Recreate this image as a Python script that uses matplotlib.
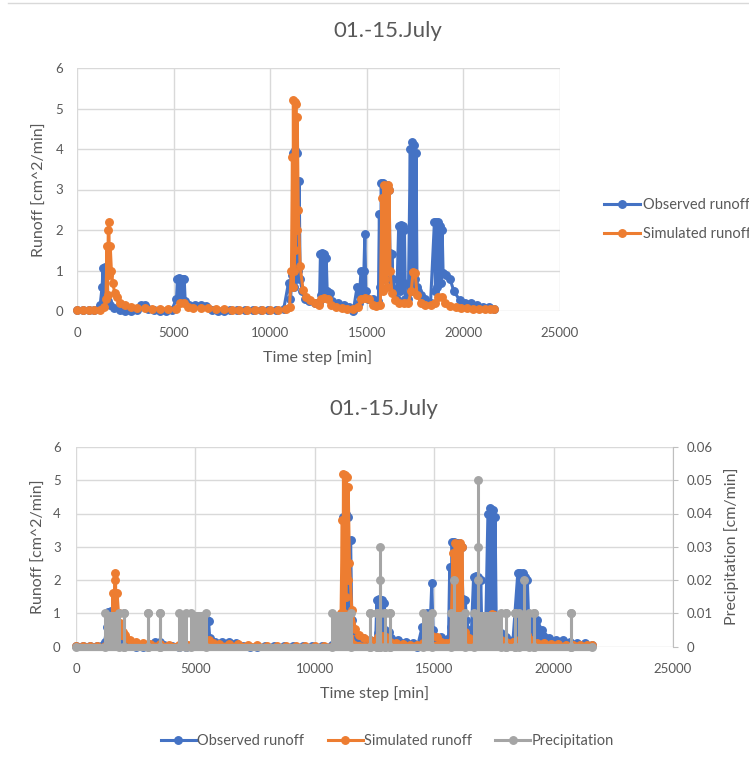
import numpy as np
import matplotlib
matplotlib.use("Agg")
import matplotlib.pyplot as plt
from matplotlib.lines import Line2D

plt.rcParams['font.family'] = ['Lato', 'DejaVu Sans']

# observed runoff [cm^2/min] (time step in min)
obs_t = [0, 300, 600, 900, 1200, 1300, 1350, 1400, 1450, 1500,
         1550, 1600, 1700, 1900, 2200, 2500, 2800, 3100, 3300, 3500,
         3700, 4000, 4300, 4600, 4900, 5150, 5200, 5250, 5300, 5350,
         5400, 5450, 5500, 5550, 5600, 5800, 6100, 6400, 6700, 7000,
         7300, 7600, 7900, 8300, 8700, 9100, 9500, 9900, 10300, 10700,
         10950, 11050, 11150, 11200, 11250, 11300, 11350, 11400, 11450, 11500,
         11550, 11650, 11800, 12000, 12300, 12550, 12600, 12650, 12700, 12750,
         12800, 12850, 12900, 12950, 13100, 13200, 13500, 13800, 14100, 14300,
         14500, 14600, 14700, 14800, 14850, 14900, 14950, 15050, 15300, 15600,
         15650, 15700, 15750, 15800, 15850, 15900, 15950, 16000, 16050, 16100,
         16150, 16200, 16250, 16300, 16350, 16450, 16550, 16650, 16700, 16750,
         16800, 16850, 16900, 16950, 17000, 17150, 17250, 17300, 17350, 17400,
         17450, 17500, 17550, 17600, 17650, 17800, 18000, 18300, 18500, 18550,
         18600, 18650, 18700, 18750, 18800, 18850, 18900, 18950, 19100, 19300,
         19500, 19800, 20100, 20400, 20700, 21000, 21300, 21600]
obs_v = [0.02, 0.02, 0.02, 0.02, 0.15, 0.6, 1.05, 0.3, 1.08, 0.4,
         1.0, 0.25, 0.15, 0.08, 0.02, 0.0, 0.0, 0.02, 0.15, 0.15,
         0.05, 0.02, 0.0, 0.0, 0.02, 0.3, 0.8, 0.3, 0.81, 0.35,
         0.8, 0.3, 0.8, 0.78, 0.25, 0.15, 0.15, 0.15, 0.12, 0.02,
         0.0, 0.0, 0.02, 0.02, 0.02, 0.02, 0.02, 0.02, 0.02, 0.05,
         0.7, 0.3, 0.9, 3.9, 0.6, 3.97, 0.8, 3.9, 1.0, 3.2,
         0.8, 0.5, 0.3, 0.25, 0.2, 0.2, 1.4, 0.4, 1.42, 0.4,
         1.4, 0.5, 1.3, 0.5, 0.45, 0.25, 0.2, 0.15, 0.1, 0.0,
         0.6, 0.2, 1.0, 0.4, 1.0, 1.9, 0.5, 0.3, 0.3, 0.25,
         2.4, 0.6, 3.15, 0.8, 3.15, 1.0, 3.1, 0.8, 3.1, 1.2,
         3.0, 1.42, 0.6, 1.4, 0.8, 0.5, 0.3, 2.1, 0.5, 2.12,
         0.6, 2.1, 0.7, 2.0, 0.3, 0.3, 4.0, 0.5, 4.18, 0.6,
         4.1, 0.8, 3.9, 0.6, 0.5, 0.4, 0.3, 0.2, 2.2, 0.5,
         2.2, 0.6, 2.2, 0.7, 2.1, 0.7, 2.0, 0.93, 0.9, 0.8,
         0.5, 0.27, 0.19, 0.19, 0.15, 0.1, 0.1, 0.05]

# simulated runoff [cm^2/min]
sim_t = [0, 300, 600, 900, 1200, 1400, 1500, 1550, 1580, 1620,
         1650, 1680, 1720, 1780, 1850, 1950, 2050, 2250, 2500, 2800,
         3100, 3500, 3900, 4300, 4700, 5100, 5350, 5550, 5750, 6000,
         6400, 6800, 7200, 7600, 8000, 8400, 8800, 9200, 9600, 10000,
         10400, 10800, 11000, 11100, 11150, 11180, 11200, 11230, 11270, 11300,
         11330, 11370, 11400, 11450, 11550, 11700, 11850, 12050, 12300, 12550,
         12650, 12800, 13000, 13150, 13400, 13700, 14000, 14300, 14550, 14700,
         14900, 15100, 15300, 15500, 15700, 15780, 15830, 15880, 15930, 15980,
         16030, 16080, 16130, 16160, 16200, 16300, 16450, 16650, 16900, 17150,
         17300, 17400, 17500, 17600, 17800, 18000, 18300, 18550, 18700, 18900,
         19050, 19300, 19600, 19900, 20200, 20500, 20800, 21100, 21400, 21600]
sim_v = [0.02, 0.02, 0.02, 0.02, 0.03, 0.1, 0.3, 1.6, 0.4, 2.0,
         2.2, 0.9, 1.6, 1.0, 0.7, 0.45, 0.35, 0.2, 0.14, 0.1,
         0.08, 0.07, 0.06, 0.06, 0.05, 0.05, 0.2, 0.2, 0.1, 0.07,
         0.07, 0.07, 0.06, 0.05, 0.03, 0.03, 0.03, 0.03, 0.03, 0.03,
         0.03, 0.05, 0.1, 1.0, 3.8, 0.6, 5.2, 1.0, 5.15, 1.5,
         5.1, 2.0, 4.8, 2.5, 1.1, 0.52, 0.35, 0.27, 0.2, 0.15,
         0.3, 0.32, 0.3, 0.15, 0.1, 0.07, 0.06, 0.05, 0.1, 0.3,
         0.32, 0.3, 0.15, 0.12, 0.15, 2.8, 0.5, 3.1, 0.8, 3.05,
         0.6, 3.1, 1.0, 3.0, 1.0, 0.45, 0.27, 0.2, 0.19, 0.2,
         0.5, 0.97, 0.95, 0.4, 0.2, 0.15, 0.15, 0.2, 0.35, 0.35,
         0.2, 0.12, 0.1, 0.08, 0.07, 0.06, 0.05, 0.05, 0.05, 0.05]

# precipitation [cm/min]: rain spells (start, end, intensity) and short bursts
rain_start = [1200, 2000, 3030, 3520, 4300, 4800, 10700, 12310, 12600, 12730,
              12950, 13150, 14550, 15700, 16650, 18000, 18400, 18550, 19200, 20720]
rain_end = [1820, 2000, 3030, 3520, 4620, 5450, 11500, 12310, 12600, 12730,
            12950, 13150, 14900, 16300, 17800, 18000, 18400, 18950, 19200, 20720]
rain_val = [0.01] * 20
rain_peak_t = [12730, 12730, 15830, 16820, 16820, 16820, 18770]
rain_peak_v = [0.02, 0.03, 0.02, 0.02, 0.03, 0.05, 0.02]

title = "01.-15.July"
x_ticks = [0, 5000, 10000, 15000, 20000, 25000]
y_ticks = [0, 1, 2, 3, 4, 5, 6]
p_ticks = [0, 0.01, 0.02, 0.03, 0.04, 0.05, 0.06]
p_labels = ["0", "0.01", "0.02", "0.03", "0.04", "0.05", "0.06"]

blue, orange, gray = "#4472C4", "#ED7D31", "#A5A5A5"
text_c, grid_c = "#595959", "#D9D9D9"
W, H = 749, 757

# rain as a line: 0 -> intensity -> 0 for every spell
rt, rv = [obs_t[0]], [0]
for s, e, v in zip(rain_start, rain_end, rain_val):
    rt += [s, s, e, e]
    rv += [0, v, v, 0]
rt.append(obs_t[-1])
rv.append(0)

fig = plt.figure(figsize=(W / 100, H / 100), dpi=100)


def box(l, t, r, b):
    return [l / W, 1 - b / H, (r - l) / W, (b - t) / H]


def txt(x, y, s, size, **kw):
    fig.text(x / W, 1 - y / H, s, ha="center", va="center", color=text_c, fontsize=size, **kw)


def style(ax, pad_x, pad_y):
    ax.set_xlim(0, 25000)
    ax.set_ylim(0, 6)
    ax.set_xticks(x_ticks)
    ax.set_yticks(y_ticks)
    ax.grid(True, color=grid_c, lw=1)
    ax.set_axisbelow(True)
    for s in ax.spines.values():
        s.set_visible(False)
    ax.tick_params(axis="x", length=0, labelsize=9.5, labelcolor=text_c, pad=pad_x)
    ax.tick_params(axis="y", length=0, labelsize=9.5, labelcolor=text_c, pad=pad_y)


lw, ms = 2.2, 5.4

# ---- top chart
ax1 = fig.add_axes(box(77, 68, 560, 311))
style(ax1, 11.5, 10)
l_obs, = ax1.plot(obs_t, obs_v, color=blue, lw=lw, marker="o", ms=ms, clip_on=False,
                  label="Observed runoff")
l_sim, = ax1.plot(sim_t, sim_v, color=orange, lw=lw, marker="o", ms=ms, clip_on=False,
                  label="Simulated runoff")
txt(387.5, 31, title, 16)
txt(40, 190, "Runoff [cm^2/min]", 11.5, rotation=90)
txt(318, 357.5, "Time step [min]", 11.5)
fig.legend(handles=[l_obs, l_sim], loc="center left", bbox_to_anchor=(604 / W, 1 - 219.5 / H),
           frameon=False, fontsize=10.5, handlelength=2.5, handletextpad=0.15,
           labelspacing=1.0, borderpad=0, borderaxespad=0, labelcolor=text_c)

# ---- bottom chart
ax3 = fig.add_axes(box(76, 447, 673, 646.5))
style(ax3, 12, 11)
ax3.fill_between(obs_t, obs_v, color=blue, lw=0)
b_obs, = ax3.plot(obs_t, obs_v, color=blue, lw=lw, marker="o", ms=ms, clip_on=False,
                  label="Observed runoff")
ax3.fill_between(sim_t, sim_v, color=orange, lw=0)
b_sim, = ax3.plot(sim_t, sim_v, color=orange, lw=lw, marker="o", ms=ms, clip_on=False,
                  label="Simulated runoff")

ax4 = ax3.twinx()
ax4.set_ylim(0, 0.06)
ax4.set_yticks(p_ticks)
ax4.set_yticklabels(p_labels)
for k, s in ax4.spines.items():
    s.set_visible(k == "right")
ax4.spines["right"].set_color("#BFBFBF")
ax4.tick_params(axis="y", direction="out", length=3.6, color="#BFBFBF",
                labelsize=9.5, labelcolor=text_c, pad=6)
ax4.fill_between(rt, rv, color=gray, lw=0)
ax4.plot([rt[0], rt[-1]], [0, 0], color=gray, lw=5.2, solid_capstyle="round", clip_on=False)
b_rain, = ax4.plot(rt, rv, color=gray, lw=lw, marker="o", ms=ms, clip_on=False,
                   label="Precipitation")
ax4.vlines(rain_peak_t, 0, rain_peak_v, color=gray, lw=lw)
ax4.plot(rain_peak_t, rain_peak_v, "o", color=gray, ms=ms, clip_on=False)

txt(383.5, 409, title, 16)
txt(38.5, 546.5, "Runoff [cm^2/min]", 11.5, rotation=90)
txt(374.5, 694, "Time step [min]", 11.5)
txt(732, 546.5, "Precipitation [cm/min]", 11.5, rotation=90)
fig.legend(handles=[b_obs, b_sim, b_rain], loc="center", bbox_to_anchor=(387.5 / W, 1 - 741 / H),
           ncol=3, frameon=False, fontsize=10.5, handlelength=2.4, handletextpad=0.1,
           columnspacing=1.6, borderpad=0, borderaxespad=0, labelcolor=text_c)

# chart border line at the top
fig.add_artist(Line2D([8 / W, 1], [1 - 2.5 / H] * 2, color=grid_c, lw=1))

fig.savefig("out.png", dpi=100)
